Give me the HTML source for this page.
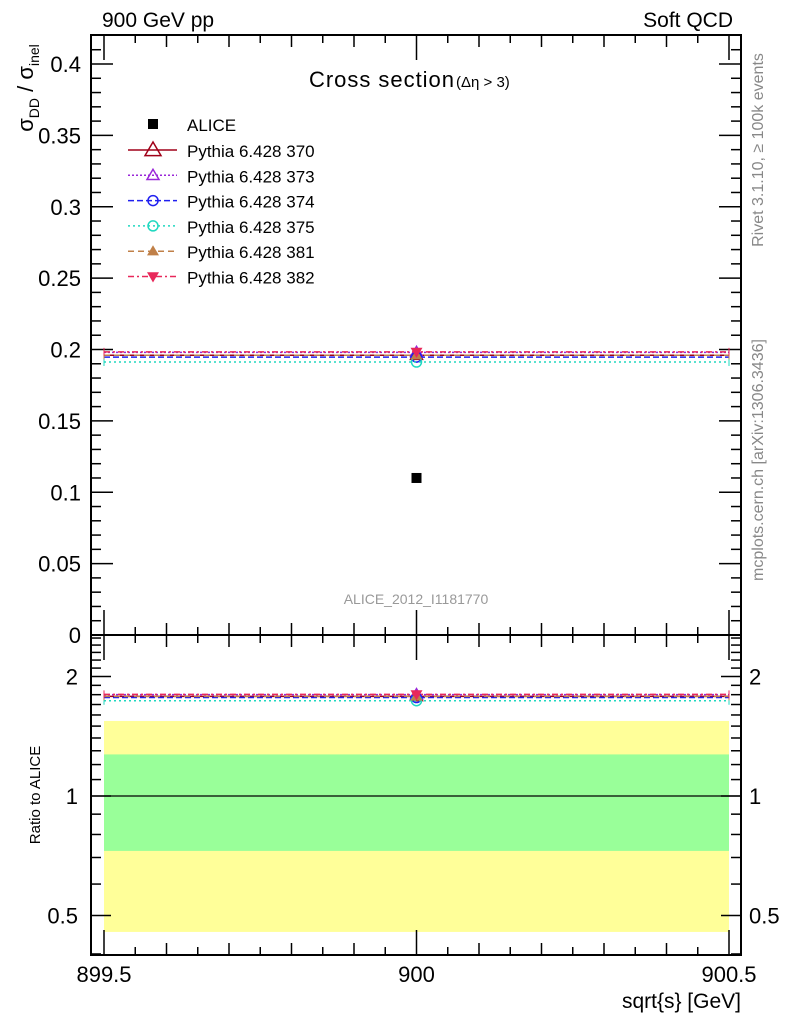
<!DOCTYPE html>
<html><head><meta charset="utf-8">
<style>
body{margin:0;background:#fff;}
svg{display:block;font-family:"Liberation Sans",sans-serif;}
</style></head>
<body>
<svg id="c" width="786" height="1024"></svg>
<script>
const seriesNames=["Pythia 6.428 370","Pythia 6.428 373","Pythia 6.428 374","Pythia 6.428 375","Pythia 6.428 381","Pythia 6.428 382"];
const seriesValues=[0.196,0.198,0.1947,0.1912,0.196,0.1983];
const dataX=[900];
const dataY=[0.11];
const statErr=[0.03];
const totErr=[0.06];
const mainTicks=[0,0.05,0.1,0.15,0.2,0.25,0.3,0.35,0.4];
const mainTickLabels=["0","0.05","0.1","0.15","0.2","0.25","0.3","0.35","0.4"];
const ratioTicks=[0.5,1,2];
const ratioTickLabels=["0.5","1","2"];
const xTicks=[899.5,900,900.5];
const xTickLabels=["899.5","900","900.5"];

const colors=["#a00018","#9a28d8","#2020f0","#20d8c0","#c08048","#e8285a"];
const dashes=["","2,2","6,3","2,3","6,4","6,3,2,3"];
const markers=["tri-open","tri-open","circ-open","circ-open","tri-fill","tri-down"];

const svg=document.getElementById('c');
const NS="http://www.w3.org/2000/svg";
function el(tag,attrs,parent){const e=document.createElementNS(NS,tag);for(const k in attrs)e.setAttribute(k,attrs[k]);(parent||svg).appendChild(e);return e;}
const L=91,R=741,T=35,MB=635,RB=955;
const X=v=>104+(v-899.5)*625;
const Y=v=>MB-v*1427.5;
const RY=v=>796-Math.log2(v)*119.5;

const r0=dataY[0];
let b=el('rect',{x:X(899.5),y:RY((r0+totErr[0])/r0),width:X(900.5)-X(899.5),height:RY((r0-totErr[0])/r0)-RY((r0+totErr[0])/r0),fill:'#ffff99'});

b=el('rect',{x:X(899.5),y:RY((r0+statErr[0])/r0),width:X(900.5)-X(899.5),height:RY((r0-statErr[0])/r0)-RY((r0+statErr[0])/r0),fill:'#99ff99'});

el('line',{x1:L,x2:R,y1:RY(1),y2:RY(1),stroke:'#000','stroke-width':1.2});

el('rect',{x:L,y:T,width:R-L,height:MB-T,fill:'none',stroke:'#000','stroke-width':2});
el('rect',{x:L,y:MB,width:R-L,height:RB-MB,fill:'none',stroke:'#000','stroke-width':2});

for(let v=0;v<=0.42;v+=0.01){const y=Y(v);const maj=Math.abs(v/0.05-Math.round(v/0.05))<1e-6;const len=maj?22:10;
el('line',{x1:L,x2:L+len,y1:y,y2:y,stroke:'#000','stroke-width':1.5});el('line',{x1:R,x2:R-len,y1:y,y2:y,stroke:'#000','stroke-width':1.5});}
mainTicks.forEach((v,i)=>{const t=el('text',{x:L-10,y:Y(v)+8,'text-anchor':'end','font-size':22});t.textContent=mainTickLabels[i];});
[0.4,0.5,0.6,0.7,0.8,0.9,1,1.1,1.2,1.3,1.4,1.5,1.6,1.7,1.8,1.9,2,2.1,2.2,2.3,2.4,2.5].forEach(v=>{const y=RY(v);const maj=ratioTicks.includes(v);const len=maj?20:10;
el('line',{x1:L,x2:L+len,y1:y,y2:y,stroke:'#000','stroke-width':1.5});el('line',{x1:R,x2:R-len,y1:y,y2:y,stroke:'#000','stroke-width':1.5});});
ratioTicks.forEach((v,i)=>{let t=el('text',{x:L-13,y:RY(v)+8,'text-anchor':'end','font-size':22});t.textContent=ratioTickLabels[i];
t=el('text',{x:R+8,y:RY(v)+8,'font-size':22});t.textContent=ratioTickLabels[i];});
for(let k=0;k<=20;k++){const v=899.5+k*0.05;const x=X(v);const maj=k%10==0;const mid=k%2==0;const len=maj?25:(mid?12:8);
[T,MB].forEach(y0=>el('line',{x1:x,x2:x,y1:y0,y2:y0+len,stroke:'#000','stroke-width':1.5}));
[MB,RB].forEach(y0=>el('line',{x1:x,x2:x,y1:y0,y2:y0-len,stroke:'#000','stroke-width':1.5}));}
xTicks.forEach((v,i)=>{const t=el('text',{x:X(v),y:982,'text-anchor':'middle','font-size':22});t.textContent=xTickLabels[i];});

function marker(type,x,y,c,s){s=s||7;
 if(type=='tri-open')return el('polygon',{points:`${x},${y-s} ${x-s},${y+s*0.7} ${x+s},${y+s*0.7}`,fill:'none',stroke:c,'stroke-width':1.5});
 if(type=='tri-fill')return el('polygon',{points:`${x},${y-s} ${x-s},${y+s*0.7} ${x+s},${y+s*0.7}`,fill:c});
 if(type=='tri-down')return el('polygon',{points:`${x},${y+s} ${x-s},${y-s*0.7} ${x+s},${y-s*0.7}`,fill:c});
 return el('circle',{cx:x,cy:y,r:s-1,fill:'none',stroke:c,'stroke-width':1.5});}

seriesValues.forEach((v,i)=>{
 [Y(v),RY(v/dataY[0])].forEach(y=>{
  const ln=el('line',{x1:X(899.5),x2:X(900.5),y1:y,y2:y,stroke:colors[i],'stroke-width':1.5,'stroke-dasharray':dashes[i]});
  
  el('line',{x1:X(899.5),x2:X(899.5),y1:y-4,y2:y+4,stroke:colors[i]});el('line',{x1:X(900.5),x2:X(900.5),y1:y-4,y2:y+4,stroke:colors[i]});
  const m=marker(markers[i],X(dataX[0]),y,colors[i],6);
 });
});
dataY.forEach((v,i)=>{const r=el('rect',{x:X(dataX[i])-5,y:Y(v)-5,width:10,height:10,fill:'#000'});});

let ly=124;
el('rect',{x:148,y:ly-5,width:10,height:10,fill:'#000'});
let t=el('text',{x:187,y:ly+7,'font-size':17});t.textContent='ALICE';
seriesNames.forEach((n,i)=>{const y=150+i*25.3;
 el('line',{x1:128,x2:177,y1:y,y2:y,stroke:colors[i],'stroke-width':1.5,'stroke-dasharray':dashes[i]});
 marker(markers[i],153,y,colors[i],markers[i]=='tri-open'&&i==0?8:6);
 const tx=el('text',{x:187,y:y+7,'font-size':17});tx.textContent=n;});

function txt(s,a,name){const e=el('text',a);e.textContent=s;return e;}
txt('900 GeV pp',{x:102,y:27,'font-size':21},'energy-label');
txt('Soft QCD',{x:733,y:27,'font-size':21,'text-anchor':'end'},'process-label');
txt('Cross section',{x:309,y:87,'font-size':22,textLength:145},'plot-title');
txt('(Δη > 3)',{x:456,y:87,'font-size':15},'plot-title-cut');
txt('ALICE_2012_I1181770',{x:416,y:604,'font-size':14,fill:'#999','text-anchor':'middle'},'analysis-id');
txt('sqrt{s} [GeV]',{x:741,y:1008,'font-size':21,'text-anchor':'end'},'x-axis-title');
const yt=el('text',{transform:'translate(33,88) rotate(-90)','font-size':22,'text-anchor':'middle'});
yt.innerHTML='σ<tspan font-size="14" dy="6">DD</tspan><tspan dy="-6"> / σ</tspan><tspan font-size="14" dy="6">inel</tspan>';
txt('Ratio to ALICE',{transform:'translate(40,795) rotate(-90)','font-size':15,'text-anchor':'middle'},'ratio-axis-title');
txt('Rivet 3.1.10, ≥ 100k events',{transform:'translate(763,150) rotate(-90)','font-size':16,fill:'#888','text-anchor':'middle'},'rivet-label');
txt('mcplots.cern.ch [arXiv:1306.3436]',{transform:'translate(763,460) rotate(-90)','font-size':16,fill:'#888','text-anchor':'middle'},'mcplots-label');
</script>
</body></html>
